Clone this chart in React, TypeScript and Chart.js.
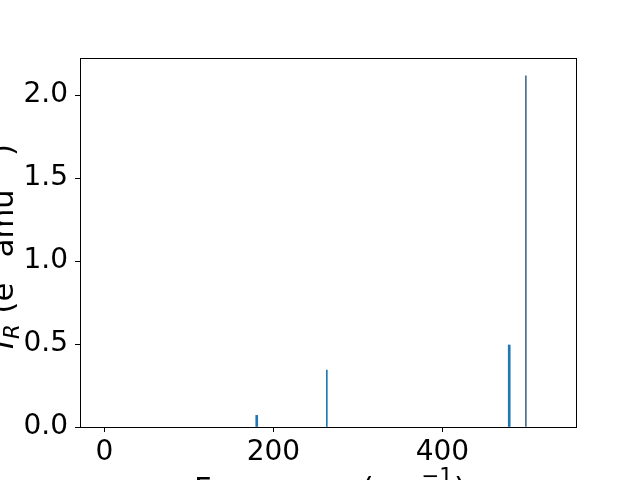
import React, { useEffect, useRef } from "react";
import { Chart, registerables } from "chart.js";

Chart.register(...registerables);

// Data
const frequencies = [180.3, 263.2, 479.0, 498.7];
const intensities = [0.07, 0.343, 0.494, 2.115];
const xTicks = [0, 200, 400];
const yTicks = [0, 0.5, 1.0, 1.5, 2.0];
// Axis titles as text runs: [text, kind] where kind = n (normal), i (italic), sub, sup
const xLabelRuns: [string, string][] = [["Frequency (cm", "n"], ["\u22121", "sup"], [")", "n"]];
const yLabelRuns: [string, string][] = [
  ["I", "i"],
  ["R", "sub"],
  [" (e", "n"],
  ["2", "sup"],
  [" amu", "n"],
  ["\u22121", "sup"],
  [")", "n"],
];

// Styles
const barWidths = [2, 1, 2, 1];
const barColors = ["#1f77b4", "#1f77b4", "#1f77b4", "#44708f"];

const FONT = "DejaVu Sans";
const FS = 28;
const LFS = 30.6;
const SFS = 21.4;

function runFont(kind: string) {
  if (kind === "i") return `italic ${LFS}px '${FONT}'`;
  if (kind === "sub") return `italic ${SFS}px '${FONT}'`;
  if (kind === "sup") return `${SFS}px '${FONT}'`;
  return `${LFS}px '${FONT}'`;
}
function runDy(kind: string) {
  if (kind === "sub") return 6;
  if (kind === "sup") return -16;
  return 0;
}
function runsWidth(ctx: any, runs: [string, string][]) {
  let w = 0;
  for (const [t, k] of runs) {
    ctx.font = runFont(k);
    w += ctx.measureText(t).width + (k === "sup" || k === "sub" ? 2 : 0);
  }
  return w;
}
function drawRuns(ctx: any, runs: [string, string][], x0: number) {
  let x = x0;
  for (const [t, k] of runs) {
    ctx.font = runFont(k);
    const pad = k === "sup" || k === "sub" ? 1 : 0;
    x += pad;
    ctx.fillText(t, x, runDy(k));
    x += ctx.measureText(t).width + pad;
  }
}

const framePlugin = {
  id: "frame",
  afterDraw(chart: any) {
    const { ctx, chartArea } = chart;
    const { left, right, top, bottom } = chartArea;
    ctx.save();
    ctx.strokeStyle = "#000";
    ctx.lineWidth = 1;
    ctx.beginPath();
    ctx.moveTo(left, top + 0.5);
    ctx.lineTo(right, top + 0.5);
    ctx.moveTo(right + 0.5, top);
    ctx.lineTo(right + 0.5, bottom);
    ctx.stroke();

    ctx.fillStyle = "#000";
    ctx.textAlign = "left";
    ctx.textBaseline = "alphabetic";

    // x title
    ctx.save();
    const wx = runsWidth(ctx, xLabelRuns);
    ctx.translate((left + right) / 2 + 2, 499);
    drawRuns(ctx, xLabelRuns, -wx / 2);
    ctx.restore();

    // y title (rotated)
    ctx.save();
    const wy = runsWidth(ctx, yLabelRuns);
    ctx.translate(13, (top + bottom) / 2 + 4);
    ctx.rotate(-Math.PI / 2);
    drawRuns(ctx, yLabelRuns, -wy / 2);
    ctx.restore();

    ctx.restore();
  },
};

export default function App() {
  const ref = useRef<HTMLCanvasElement | null>(null);

  useEffect(() => {
    document.body.style.margin = "0";
    const canvas = ref.current;
    if (!canvas) return;
    const datasets = frequencies.map((f, i) => ({
      data: [{ x: f, y: intensities[i] }],
      backgroundColor: barColors[i],
      borderWidth: 0,
      barThickness: barWidths[i],
      grouped: false,
    }));
    const chart = new Chart(canvas, {
      type: "bar",
      data: { datasets },
      plugins: [framePlugin],
      options: {
        animation: false,
        responsive: false,
        maintainAspectRatio: false,
        devicePixelRatio: 1,
        layout: { padding: { left: 0, right: 64, top: 58, bottom: 0 } },
        plugins: {
          legend: { display: false },
          tooltip: { enabled: false },
          title: { display: false },
        },
        scales: {
          x: {
            type: "linear",
            min: -28.8,
            max: 558,
            offset: false,
            afterBuildTicks: (scale: any) => {
              scale.ticks = xTicks.map((v) => ({ value: v }));
            },
            afterFit: (scale: any) => {
              scale.height = 53;
            },
            grid: {
              display: true,
              offset: false,
              drawOnChartArea: false,
              drawTicks: true,
              tickLength: 5,
              color: "#000",
            },
            border: { display: true, color: "#000", width: 1 },
            ticks: {
              color: "#000",
              font: { family: FONT, size: FS },
              padding: 4,
              maxRotation: 0,
              autoSkip: false,
              callback: (v: any) => String(v),
            },
          },
          y: {
            type: "linear",
            min: 0,
            max: 2.223,
            afterBuildTicks: (scale: any) => {
              scale.ticks = yTicks.map((v) => ({ value: v }));
            },
            afterFit: (scale: any) => {
              scale.width = 80;
            },
            grid: {
              display: true,
              offset: false,
              drawOnChartArea: false,
              drawTicks: true,
              tickLength: 5,
              color: "#000",
            },
            border: { display: true, color: "#000", width: 1 },
            ticks: {
              color: "#000",
              font: { family: FONT, size: FS },
              padding: 7,
              autoSkip: false,
              callback: (v: any) => Number(v).toFixed(1),
            },
          },
        },
      },
    });
    return () => chart.destroy();
  }, []);

  return (
    <div style={{ position: "fixed", left: 0, top: 0, width: 640, height: 480, background: "#fff" }}>
      <canvas ref={ref} width={640} height={480} style={{ width: 640, height: 480, display: "block" }} />
    </div>
  );
}
